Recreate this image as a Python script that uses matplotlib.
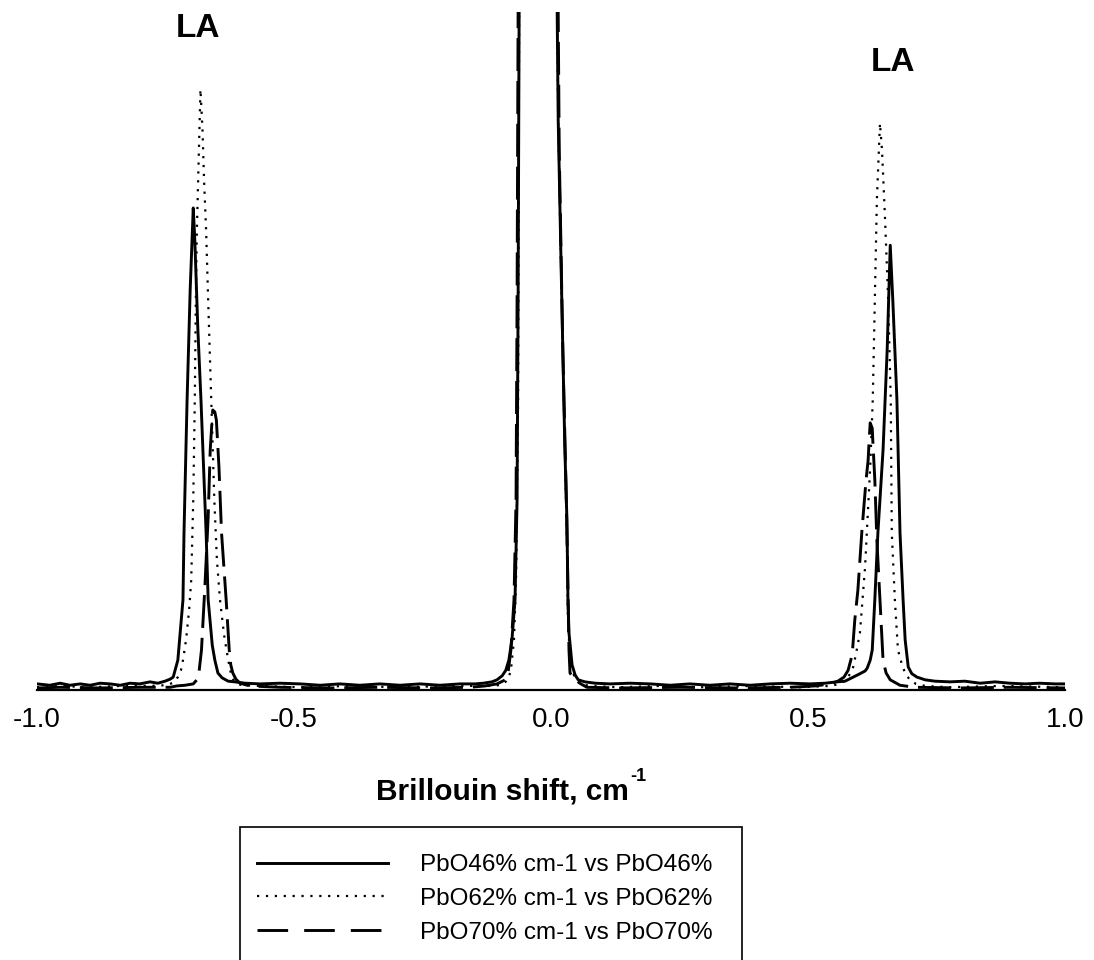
"""Brillouin spectra of PbO glasses: LA doublets around the central Rayleigh line."""
import matplotlib
matplotlib.use('Agg')
import matplotlib.pyplot as plt
from matplotlib.lines import Line2D
from matplotlib.patches import Rectangle

plt.rcParams.update({
    'font.family': ['Liberation Sans', 'DejaVu Sans'],
    'axes.unicode_minus': False,
})

# Brillouin shift (cm-1) and intensity (a.u.) for each composition
pbo46_shift = [-1.000, -0.975, -0.955, -0.936, -0.916, -0.897, -0.877, -0.858, -0.838, -0.819,
               -0.800, -0.780, -0.765, -0.751, -0.741, -0.735, -0.726, -0.716, -0.714, -0.708,
               -0.702, -0.696, -0.693, -0.687, -0.681, -0.675, -0.671, -0.667, -0.659, -0.654,
               -0.648, -0.640, -0.628, -0.615, -0.595, -0.566, -0.527, -0.488, -0.449, -0.411,
               -0.372, -0.333, -0.294, -0.255, -0.216, -0.177, -0.148, -0.132, -0.115, -0.105,
               -0.095, -0.088, -0.082, -0.076, -0.070, -0.066, -0.064, -0.062, -0.025, 0.012,
               0.014, 0.021, 0.027, 0.031, 0.033, 0.035, 0.041, 0.047, 0.053, 0.066,
               0.086, 0.115, 0.154, 0.193, 0.232, 0.270, 0.309, 0.348, 0.387, 0.426,
               0.465, 0.504, 0.533, 0.556, 0.572, 0.588, 0.601, 0.611, 0.615, 0.621,
               0.625, 0.630, 0.636, 0.646, 0.654, 0.660, 0.665, 0.673, 0.679, 0.685,
               0.689, 0.695, 0.702, 0.712, 0.728, 0.747, 0.776, 0.805, 0.835, 0.864,
               0.893, 0.922, 0.951, 0.981, 1.000]
pbo46_int = [0.9, 0.7, 1.0, 0.7, 0.9, 0.7, 1.0, 0.9, 0.7, 1.0,
             0.9, 1.2, 1.0, 1.3, 1.6, 1.9, 4.4, 13.3, 23.2, 42.8,
             59.0, 71.1, 66.4, 53.1, 42.8, 31.0, 23.2, 13.3, 6.6, 4.4,
             2.5, 1.8, 1.3, 1.2, 1.0, 0.9, 1.0, 0.9, 0.7, 0.9,
             0.7, 0.9, 0.7, 0.9, 0.7, 0.9, 0.9, 1.0, 1.2, 1.5,
             2.1, 2.9, 4.4, 7.4, 13.3, 28.0, 57.5, 100.0, 800.0, 100.0,
             84.1, 57.5, 35.4, 25.1, 13.3, 8.4, 3.7, 2.2, 1.5, 1.2,
             1.0, 0.9, 1.0, 0.9, 0.7, 0.9, 0.7, 0.9, 0.7, 0.9,
             1.0, 0.9, 1.0, 1.2, 1.3, 1.9, 2.4, 2.8, 3.2, 4.4,
             5.9, 13.3, 23.2, 35.4, 50.1, 65.6, 57.5, 42.8, 23.2, 13.3,
             7.4, 3.4, 2.4, 1.9, 1.5, 1.3, 1.2, 1.3, 1.0, 1.2,
             1.0, 0.9, 1.0, 0.9, 0.9]

pbo62_shift = [-1.000, -0.955, -0.897, -0.838, -0.780, -0.751, -0.737, -0.730, -0.726, -0.720,
               -0.716, -0.710, -0.704, -0.700, -0.696, -0.693, -0.691, -0.689, -0.685, -0.682,
               -0.678, -0.675, -0.671, -0.667, -0.661, -0.655, -0.650, -0.644, -0.636, -0.628,
               -0.621, -0.613, -0.601, -0.566, -0.488, -0.391, -0.294, -0.196, -0.138, -0.109,
               -0.093, -0.084, -0.078, -0.072, -0.068, -0.064, -0.062, -0.025, 0.012, 0.014,
               0.021, 0.027, 0.031, 0.033, 0.037, 0.045, 0.056, 0.076, 0.134, 0.212,
               0.290, 0.387, 0.484, 0.543, 0.562, 0.574, 0.582, 0.588, 0.593, 0.601,
               0.611, 0.621, 0.626, 0.630, 0.634, 0.640, 0.644, 0.650, 0.656, 0.661,
               0.663, 0.669, 0.675, 0.683, 0.689, 0.698, 0.710, 0.728, 0.776, 0.874,
               1.000]
pbo62_int = [0.4, 0.6, 0.4, 0.6, 0.6, 0.7, 1.0, 1.5, 1.9, 2.9,
             4.4, 7.4, 11.8, 16.2, 28.0, 42.8, 57.5, 67.8, 79.6, 88.6,
             82.6, 75.2, 67.8, 57.5, 42.8, 28.0, 19.2, 13.3, 8.1, 4.4,
             1.8, 1.0, 0.7, 0.6, 0.4, 0.6, 0.4, 0.6, 0.6, 0.6,
             0.9, 1.5, 2.9, 7.4, 16.2, 42.8, 100.0, 800.0, 100.0, 84.1,
             57.5, 35.4, 22.1, 10.3, 4.4, 2.1, 0.9, 0.6, 0.4, 0.6,
             0.4, 0.6, 0.4, 0.6, 0.9, 1.5, 2.4, 3.4, 5.2, 8.4,
             18.1, 32.9, 42.8, 57.5, 72.3, 83.6, 79.6, 69.3, 57.5, 42.8,
             23.2, 13.3, 5.9, 3.7, 2.5, 1.5, 0.9, 0.6, 0.4, 0.6,
             0.4]

pbo70_shift = [-1.000, -0.955, -0.877, -0.800, -0.741, -0.728, -0.712, -0.696, -0.689, -0.685,
               -0.680, -0.673, -0.667, -0.663, -0.660, -0.658, -0.654, -0.651, -0.646, -0.641,
               -0.632, -0.626, -0.623, -0.619, -0.613, -0.605, -0.586, -0.527, -0.430, -0.333,
               -0.235, -0.158, -0.128, -0.105, -0.089, -0.083, -0.078, -0.072, -0.068, -0.066,
               -0.064, -0.025, 0.014, 0.016, 0.023, 0.029, 0.032, 0.034, 0.035, 0.037,
               0.047, 0.058, 0.070, 0.134, 0.251, 0.368, 0.465, 0.514, 0.543, 0.558,
               0.570, 0.578, 0.586, 0.591, 0.597, 0.605, 0.613, 0.617, 0.619, 0.621,
               0.625, 0.626, 0.630, 0.634, 0.640, 0.644, 0.646, 0.652, 0.660, 0.679,
               0.708, 0.796, 0.893, 1.000]
pbo70_int = [0.3, 0.4, 0.3, 0.4, 0.4, 0.6, 0.7, 0.9, 1.5, 2.5,
             5.9, 15.8, 25.5, 35.4, 39.1, 41.3, 41.0, 39.8, 32.9, 23.2,
             13.3, 5.9, 3.7, 2.5, 1.6, 1.0, 0.6, 0.4, 0.3, 0.4,
             0.3, 0.4, 0.6, 0.9, 1.5, 2.9, 5.9, 13.3, 28.0, 57.5,
             100.0, 800.0, 100.0, 79.6, 50.1, 31.0, 19.2, 10.3, 5.9, 2.5,
             1.5, 0.9, 0.4, 0.3, 0.4, 0.3, 0.4, 0.6, 0.9, 1.3,
             1.9, 2.9, 5.2, 10.3, 14.7, 23.6, 31.0, 33.9, 36.9, 39.4,
             38.6, 36.9, 31.0, 22.1, 13.3, 7.4, 4.4, 2.5, 1.5, 0.7,
             0.4, 0.3, 0.4, 0.3]

series_labels = ['PbO46% cm-1 vs PbO46%', 'PbO62% cm-1 vs PbO62%', 'PbO70% cm-1 vs PbO70%']
peak_labels = ['LA', 'LA']
peak_label_pos = [(-0.687, 97.5), (0.665, 92.5)]

W, H = 1094, 960


def main():
    fig = plt.figure(figsize=(W / 100, H / 100), dpi=100)
    ax = fig.add_axes([37 / W, 1 - 690 / H, 1028 / W, 678 / H])

    l1, = ax.plot(pbo46_shift, pbo46_int, color='black', lw=2.1, ls='-')
    l2, = ax.plot(pbo62_shift, pbo62_int, color='black', lw=1.6, ls=(0, (1, 3)))
    ax.plot(pbo70_shift, pbo70_int, color='black', lw=2.1, ls=(0, (11.3, 3.4)))
    # legend swatch for the dashed series: three whole dashes
    l3 = Line2D([], [], color='black', lw=2.1, ls=(0, (10.5, 5.5)))

    for text, (x, y) in zip(peak_labels, peak_label_pos):
        ax.text(x, y, text, ha='center', va='center', fontsize=24, fontweight='bold')

    ax.set_xlim(-1.0, 1.0)
    ax.set_ylim(0, 100)
    ax.set_xticks([-1.0, -0.5, 0.0, 0.5, 1.0])
    ax.set_xticklabels(['-1.0', '-0.5', '0.0', '0.5', '1.0'])
    ax.tick_params(axis='x', length=0, pad=12, labelsize=20)
    ax.set_yticks([])
    for side in ('left', 'right', 'top'):
        ax.spines[side].set_visible(False)
    ax.spines['bottom'].set_linewidth(1.6)

    # axis title with a small raised "-1"
    xlab = fig.text(376 / W, 1 - 791 / H, 'Brillouin shift, cm', fontsize=21.5,
                    fontweight='bold', ha='left', va='center')
    ax.annotate('-1', xy=(1, 1), xycoords=xlab, xytext=(1, -6),
                textcoords='offset points', ha='left', va='bottom',
                fontsize=13, fontweight='bold')

    fig.legend([l1, l2, l3], series_labels, loc='upper left',
               bbox_to_anchor=(257 / W, 1 - 854 / H), fontsize=17.5,
               frameon=False, handlelength=5.4, handletextpad=1.3,
               borderpad=0, labelspacing=0.49, borderaxespad=0)
    fig.add_artist(Rectangle((240 / W, -0.02), 502 / W, (H - 827) / H + 0.02,
                             transform=fig.transFigure, fill=False,
                             edgecolor='black', linewidth=1.2))

    fig.savefig('out.png', dpi=100)
    plt.close(fig)


if __name__ == '__main__':
    main()
